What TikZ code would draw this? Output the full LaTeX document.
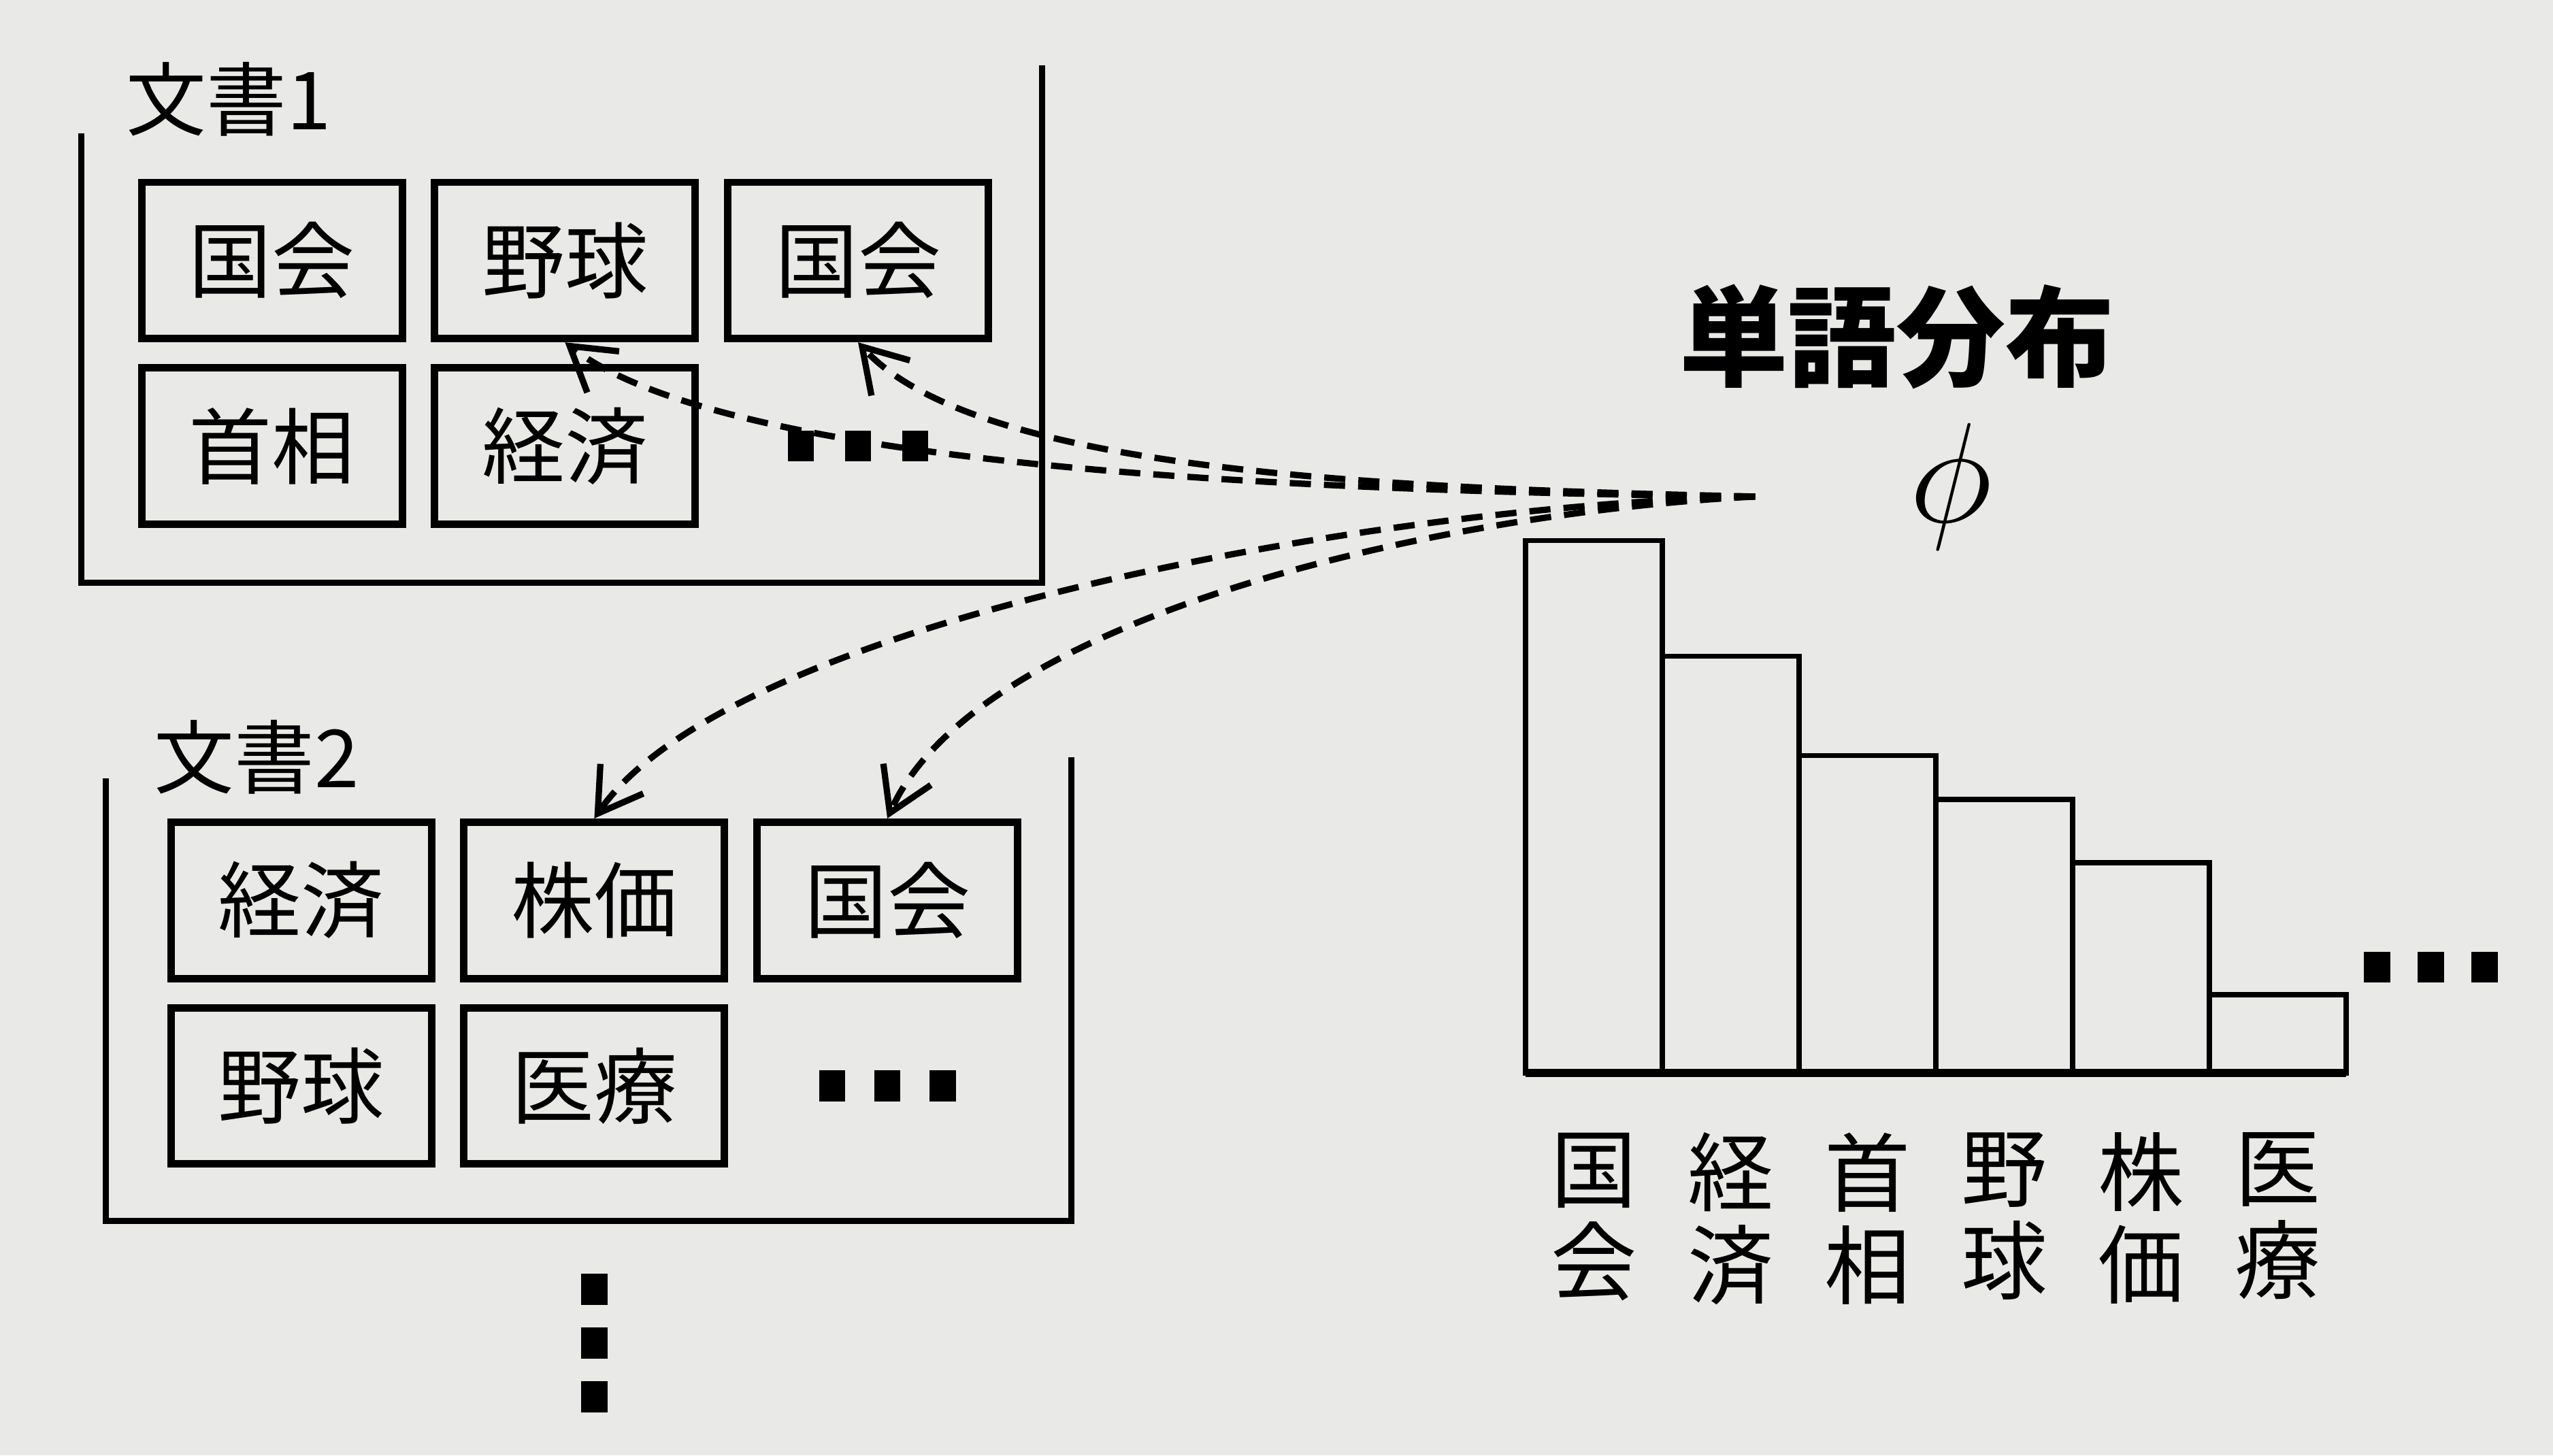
\documentclass[tikz,border=0pt]{standalone}
\usepackage{fontspec}
\setmainfont{Noto Sans CJK JP}
\usepackage{tikz}
\usetikzlibrary{arrows.meta,positioning,shapes}
\definecolor{paper}{RGB}{233,233,231}
\tikzset{%
	word/.style     = {draw, rectangle, line width=1.3pt, minimum width=1.6cm, minimum height=0.96cm, font=\fontsize{14.5}{17}\selectfont}, % word in a document
	doclabel/.style = {inner sep=0pt, font=\fontsize{14}{17}\selectfont}, % document name
	doc/.style      = {line width=1.1pt}, % document frame
	barbox/.style   = {draw, rectangle, line width=0.9pt, minimum width=0.84cm, inner sep=0pt, outer sep=0pt, anchor=south west},
	barlabel/.style = {align=center, inner sep=0pt, font=\fontsize{15}{16.2}\selectfont},
	sq/.style       = {fill, rectangle, minimum width=1.6mm, minimum height=1.9mm, inner sep=0pt}, % one dot
	waypoint/.style = {coordinate},
	flow/.style     = {line width=1.1pt, dash pattern=on 1.3mm off 0.8mm, -{Straight Barb[length=2.6mm,width=3.2mm]}},
}
\begin{document}
\begin{tikzpicture}[x=0.1mm,y=-0.1mm,node distance=1.8cm]
	\fill [paper] (0,0) rectangle (1568,894);
	\useasboundingbox (0,0) rectangle (1568,894);

	% document 1
	\node [doclabel,anchor=west] (t1) at (77,61) {文書1};
	\node [word] (d1a) at (167,160) {国会};
	\node [word] (d1b) [right of=d1a] {野球};
	\node [word] (d1c) [right of=d1b] {国会};
	\node [word] (d1d) [below of=d1a,node distance=1.14cm] {首相};
	\node [word] (d1e) [right of=d1d] {経済};
	\node [sq] (e1b) [below of=d1c,node distance=1.14cm] {};
	\node [sq] (e1a) [left of=e1b,node distance=3.5mm] {};
	\node [sq] (e1c) [right of=e1b,node distance=3.5mm] {};
	\draw [doc] (50,82) -- (50,358) -- (640,358) -- (640,40);

	% document 2
	\node [doclabel,anchor=west] (t2) at (94,465) {文書2};
	\node [word] (d2a) at (185,553) {経済};
	\node [word] (d2b) [right of=d2a] {株価};
	\node [word] (d2c) [right of=d2b] {国会};
	\node [word] (d2d) [below of=d2a,node distance=1.14cm] {野球};
	\node [word] (d2e) [right of=d2d] {医療};
	\node [sq] (e2b) [below of=d2c,node distance=1.14cm] {};
	\node [sq] (e2a) [left of=e2b,node distance=3.4mm] {};
	\node [sq] (e2c) [right of=e2b,node distance=3.4mm] {};
	\draw [doc] (65,478) -- (65,750) -- (658,750) -- (658,465);
	\node [sq] (v1) [below of=d2e,node distance=1.25cm] {};
	\node [sq] (v2) [below of=v1,node distance=3.3mm] {};
	\node [sq] (v3) [below of=v2,node distance=3.3mm] {};

	% word distribution
	\node [font=\fontsize{19}{22}\selectfont\bfseries] (ttl) at (1165,207) {単語分布};
	\node (phi) at (1198,299) {\fontsize{25}{30}\selectfont$\phi$};
	\node [waypoint] (src) at (1078,305) {};

	\node [barbox,minimum height=3.27cm] (b1) at (937,659) {};
	\node [barbox,minimum height=2.56cm] (b2) at (b1.south east) {};
	\node [barbox,minimum height=1.95cm] (b3) at (b2.south east) {};
	\node [barbox,minimum height=1.68cm] (b4) at (b3.south east) {};
	\node [barbox,minimum height=1.29cm] (b5) at (b4.south east) {};
	\node [barbox,minimum height=0.48cm] (b6) at (b5.south east) {};
	\draw [line width=1.4pt] (b1.south west) -- (b6.south east);
	\node [sq] (e3a) at (1460,594) {};
	\node [sq] (e3b) [right of=e3a,node distance=3.3mm] {};
	\node [sq] (e3c) [right of=e3b,node distance=3.3mm] {};

	\node [barlabel] (l1) [below=3.6mm of b1.south] {国\\会};
	\node [barlabel] (l2) [below=3.6mm of b2.south] {経\\済};
	\node [barlabel] (l3) [below=3.6mm of b3.south] {首\\相};
	\node [barlabel] (l4) [below=3.6mm of b4.south] {野\\球};
	\node [barlabel] (l5) [below=3.6mm of b5.south] {株\\価};
	\node [barlabel] (l6) [below=3.6mm of b6.south] {医\\療};

	% sampling words
	\draw [flow] (src) .. controls (820,302) and (450,290) .. (d1b.south);
	\draw [flow] (src) .. controls (850,300) and (600,290) .. (d1c.south);
	\draw [flow] (src) .. controls (850,310) and (450,380) .. (d2b.north);
	\draw [flow] (src) .. controls (880,315) and (600,380) .. (d2c.north);
\end{tikzpicture}
\end{document}
